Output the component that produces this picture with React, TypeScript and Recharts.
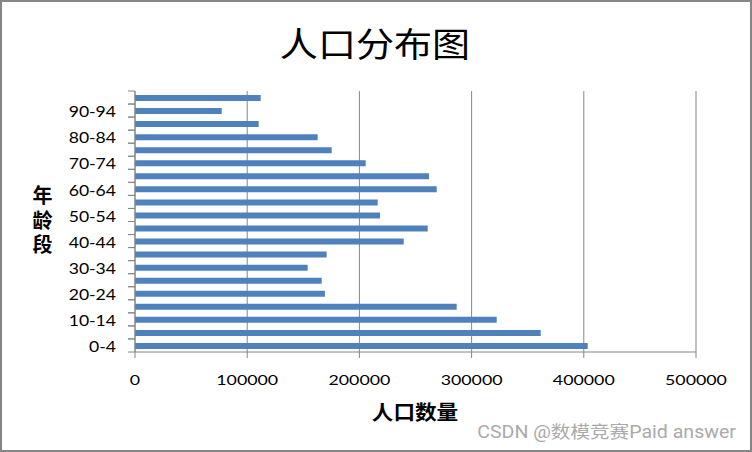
import { Bar, BarChart, CartesianGrid, XAxis, YAxis } from "recharts";

const ageGroups = [
  "0-4", "5-9", "10-14", "15-19", "20-24", "25-29", "30-34", "35-39", "40-44", "45-49",
  "50-54", "55-59", "60-64", "65-69", "70-74", "75-79", "80-84", "85-89", "90-94", "95-99",
];
const population = [
  403500, 361600, 322400, 286700, 169300, 166400, 153900, 170800, 239500, 260900,
  218400, 216300, 268900, 262000, 205600, 175300, 162800, 110200, 77300, 112000,
];
const xTicks = [0, 100000, 200000, 300000, 400000, 500000];

const W = 752;
const H = 452;
const PLOT_LEFT = 135;
const PLOT_TOP = 91;
const PLOT_BOTTOM = 352;
const PLOT_RIGHT = 696;
const BAND = (PLOT_BOTTOM - PLOT_TOP) / ageGroups.length;
const GREY = "#868686";
const LATIN = "Lato, 'Noto Sans', sans-serif";
const CJK = "'Noto Sans CJK SC', sans-serif";

const data = ageGroups.map((age, i) => ({ age, pop: population[i] }));

function YTick(props: any) {
  const { y, payload, index } = props;
  return (
    <g>
      <line x1={PLOT_LEFT - 7} x2={PLOT_LEFT} y1={y - BAND / 2} y2={y - BAND / 2} stroke={GREY} />
      <line x1={PLOT_LEFT - 7} x2={PLOT_LEFT} y1={y + BAND / 2} y2={y + BAND / 2} stroke={GREY} />
      {index % 2 === 0 && (
        <text
          transform={`translate(${PLOT_LEFT - 19},${y + 0.5}) scale(1.1,1)`}
          textAnchor="end"
          dominantBaseline="central"
          fontFamily={LATIN}
          fontSize={16}
          fill="#000"
        >
          {payload.value}
        </text>
      )}
    </g>
  );
}

function XTick(props: any) {
  const { x, payload } = props;
  return (
    <text
      transform={`translate(${x},${PLOT_BOTTOM + 27}) scale(1.27,1)`}
      textAnchor="middle"
      dominantBaseline="central"
      fontFamily={LATIN}
      fontSize={14}
      fill="#000"
    >
      {payload.value}
    </text>
  );
}

export default function App() {
  return (
    <div style={{ position: "absolute", left: 0, top: 0, width: W, height: H, background: "#fff" }}>
      <BarChart
        width={W}
        height={H}
        data={data}
        layout="vertical"
        margin={{ top: PLOT_TOP, right: W - PLOT_RIGHT, bottom: 0, left: 0 }}
      >
        <CartesianGrid horizontal={false} stroke={GREY} />
        <XAxis
          type="number"
          domain={[0, 500000]}
          ticks={xTicks}
          interval={0}
          height={H - PLOT_BOTTOM}
          axisLine={{ stroke: GREY }}
          tickLine={{ stroke: GREY }}
          tickSize={6}
          tick={<XTick />}
        />
        <YAxis
          type="category"
          dataKey="age"
          reversed
          width={PLOT_LEFT}
          interval={0}
          axisLine={{ stroke: GREY }}
          tickLine={false}
          tick={<YTick />}
        />
        <Bar dataKey="pop" fill="#4F81BD" barSize={6} isAnimationActive={false} />
      </BarChart>
      <svg
        width={W}
        height={H}
        style={{ position: "absolute", left: 0, top: 0, pointerEvents: "none" }}
      >
        <text
          transform="translate(375,42) scale(1.12,1)"
          textAnchor="middle"
          dominantBaseline="central"
          fontFamily={CJK}
          fontSize={34}
          fill="#000"
        >
          人口分布图
        </text>
        <text
          x={42.5}
          y={222.5}
          textAnchor="middle"
          dominantBaseline="central"
          fontFamily={CJK}
          fontSize={20}
          fontWeight="bold"
          letterSpacing={4.5}
          fill="#000"
          style={{ writingMode: "vertical-rl" }}
        >
          年龄段
        </text>
        <text
          transform="translate(415,411) scale(1.08,1)"
          textAnchor="middle"
          dominantBaseline="central"
          fontFamily={CJK}
          fontSize={20}
          fontWeight="bold"
          fill="#000"
        >
          人口数量
        </text>
        <text
          transform="translate(736,432) scale(1.12,1)"
          textAnchor="end"
          dominantBaseline="central"
          fontFamily={`Roboto, ${CJK}`}
          fontSize={17.5}
          fill="#aaaaaa"
        >
          CSDN @数模竞赛Paid answer
        </text>
        <rect x={1} y={1} width={W - 2} height={H - 2} fill="none" stroke={GREY} strokeWidth={2} />
      </svg>
    </div>
  );
}
